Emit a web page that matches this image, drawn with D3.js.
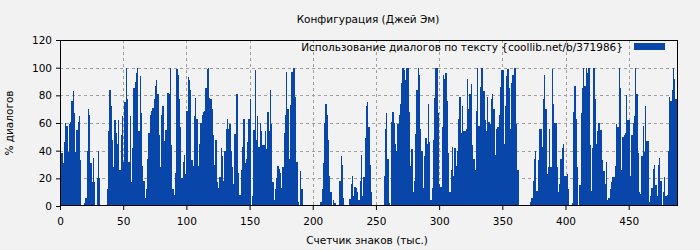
<!DOCTYPE html>
<html><head><meta charset="utf-8">
<script src="https://cdn.jsdelivr.net/npm/d3@7"></script>
<style>
html,body{margin:0;padding:0;background:#f2f2f2;}
text{font-family:"DejaVu Sans",sans-serif;fill:#000;}
</style></head>
<body><svg id="c" width="700" height="250"></svg>
<script>
const title = "Конфигурация (Джей Эм)";
const seriesName = "Использование диалогов по тексту {coollib.net/b/371986}";
const xLabel = "Счетчик знаков (тыс.)";
const yLabel = "% диалогов";
const xTicks = [0, 50, 100, 150, 200, 250, 300, 350, 400, 450];
const yTicks = [0, 20, 40, 60, 80, 100, 120];
const xMax = 489;
// dialogue share per 1000 characters
const usage = [
 41,38,31,46,60,58,39,59,61,76,83,67,39,55,61,65,33,
 0,0,
 2,6,40,70,66,31,17,35,17,0,20,40,20,
 0,0,0,0,0,
 12,54,84,72,48,28,62,53,45,62,26,51,65,32,75,100,77,32,65,17,42,85,90,96,100,54,94,67,29,18,
 6,
 12,34,53,66,69,71,77,87,91,81,51,28,66,72,47,55,55,82,81,100,44,12,8,24,99,95,77,57,20,32,37,23,69,93,91,84,33,29,65,78,63,29,45,60,66,68,69,85,99,100,78,77,70,51,
 30,48,17,13,21,42,36,18,40,56,63,56,59,40,28,16,52,81,81,24,8,26,43,63,31,34,46,63,77,0,7,55,98,48,65,43,60,54,44,44,
 54,41,68,54,84,59,17,4,12,20,29,27,24,13,28,53,66,97,70,34,73,97,100,100,79,32,3,0,25,12,
 0,0,0,0,0,0,0,0,0,0,0,0,0,0,
 3,12,31,60,74,66,48,22,10,1,4,2,0,0,0,18,36,30,6,0,0,0,0,5,16,22,7,14,13,10,4,18,37,7,21,49,72,75,57,
 30,10,
 0,0,0,0,0,0,0,0,0,
 22,56,67,34,2,1,61,68,60,45,40,59,66,74,89,100,98,91,100,100,68,29,41,10,18,52,84,100,95,56,40,13,36,49,45,74,46,4,13,48,78,100,100,67,16,14,57,95,92,96,76,38,10,26,43,22,42,29,40,63,79,53,72,54,54,56,92,70,81,88,
 44,34,26,69,100,58,86,100,100,83,62,54,79,61,59,77,81,70,37,56,57,66,86,98,98,45,72,94,99,85,56,89,95,100,100,59,26,
 0,0,0,0,0,0,0,0,0,
 3,6,18,34,40,11,33,56,56,43,77,95,70,23,28,56,28,99,74,60,60,28,10,16,34,42,45,22,22,23,12,0,0,2,
 68,87,
 63,28,0,15,67,85,100,87,100,96,100,44,11,42,100,77,45,54,60,55,55,33,25,16,32,4,6,12,17,21,21,29,59,57,100,85,26,50,51,53,80,62,62,22,51,60,65,100,81,38,10,9,36,58,39,72,47,47,3,7,13,27,30,15,7,30,35,18,0,10,21,7,8,40,79,76,84,100,92,77,77
];

const svg = d3.select("#c");
const L = 60, R = 678, T = 40, B = 206;
const barColor = "#0846aa";
const x = d3.scaleLinear().domain([0, xMax]).range([L, R]);
const y = d3.scaleLinear().domain([0, 120]).range([B, T]);

svg.append("rect").attr("width",700).attr("height",250).attr("fill","#f2f2f2");

// grid
const grid = svg.append("g").attr("stroke","#a0a0a0").attr("stroke-dasharray","3,3").attr("stroke-width",1);
xTicks.filter(t => t > 0).forEach(t => {
  grid.append("line").attr("x1", Math.round(x(t))+0.5).attr("x2", Math.round(x(t))+0.5).attr("y1", T).attr("y2", B);
});
yTicks.filter(t => t > 0 && t < 120).forEach(t => {
  grid.append("line").attr("y1", Math.round(y(t))+0.5).attr("y2", Math.round(y(t))+0.5).attr("x1", L).attr("x2", R);
});

// bars
svg.append("g").attr("shape-rendering","crispEdges").selectAll("rect").data(usage).join("rect")
  .attr("x", (d,i) => Math.round(x(i)))
  .attr("width", (d,i) => Math.round(x(i+1)) - Math.round(x(i)))
  .attr("y", d => Math.round(y(d)))
  .attr("height", d => Math.round(y(0)) - Math.round(y(d)))
  .attr("fill", barColor);

// frame
svg.append("rect").attr("x", L+0.5).attr("y", T+0.5).attr("width", R-L-1).attr("height", B-T-1)
  .attr("fill","none").attr("stroke","#000").attr("stroke-width",1);

// axes
const xa = svg.append("g").attr("transform", `translate(0,${B})`)
  .call(d3.axisBottom(x).tickValues(xTicks).tickSize(4).tickPadding(8).tickFormat(d3.format("d")));
const ya = svg.append("g").attr("transform", `translate(${L},0)`)
  .call(d3.axisLeft(y).tickValues(yTicks).tickSize(4).tickPadding(4).tickFormat(d3.format("d")));
[xa, ya].forEach(a => {
  a.select(".domain").remove();
  a.selectAll("text").attr("font-family","DejaVu Sans").attr("font-size","10.5px").attr("fill","#000");
  a.selectAll("line").attr("stroke","#000");
});

svg.append("text").attr("x", 368).attr("y", 23).attr("text-anchor","middle").attr("font-size","10.5px").text(title);
svg.append("text").attr("x", 367).attr("y", 244).attr("text-anchor","middle").attr("font-size","10.5px").text(xLabel);
svg.append("text").attr("transform","translate(13,123) rotate(-90)").attr("text-anchor","middle").attr("font-size","10.5px").text(yLabel);

// legend
svg.append("text").attr("x", 623).attr("y", 51).attr("text-anchor","end").attr("font-size","10.5px").text(seriesName);
svg.append("rect").attr("x", 634).attr("y", 43).attr("width", 31).attr("height", 7).attr("fill", barColor);
</script></body></html>
